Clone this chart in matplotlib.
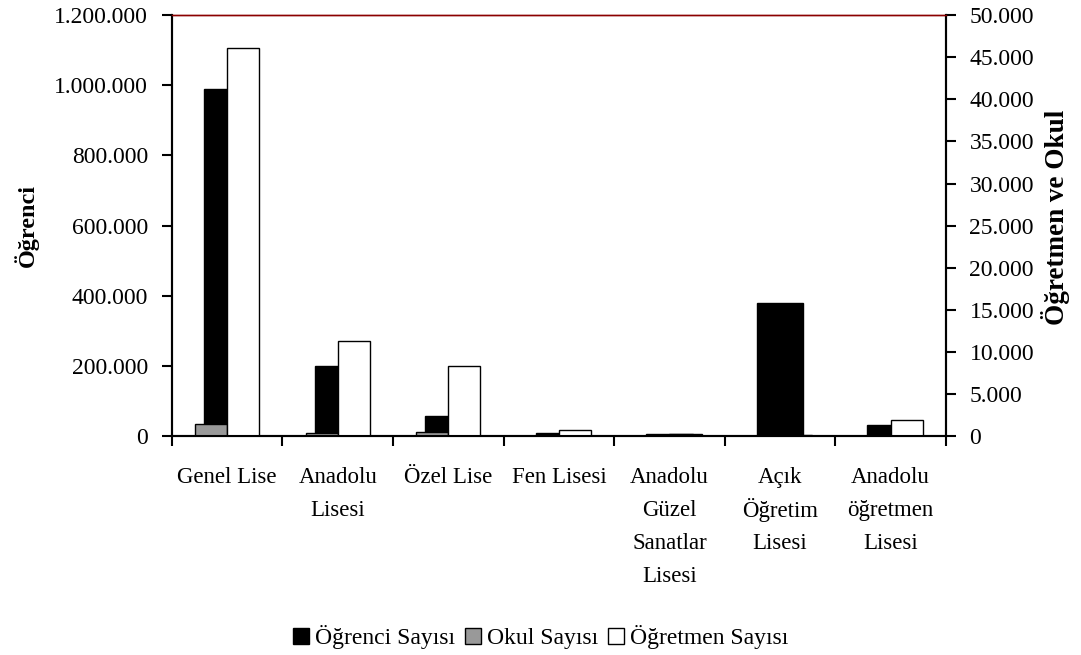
import numpy as np
import matplotlib
matplotlib.use('Agg')
import matplotlib.pyplot as plt
from matplotlib.ticker import FuncFormatter, FixedLocator
from matplotlib.patches import Patch

plt.rcParams['font.family'] = ['Liberation Serif', 'DejaVu Serif']

categories = ['Genel Lise', 'Anadolu\nLisesi', 'Özel Lise', 'Fen Lisesi',
              'Anadolu\nGüzel\nSanatlar\nLisesi', 'Açık\nÖğretim\nLisesi',
              'Anadolu\nöğretmen\nLisesi']
ogrenci = [989000, 200000, 57000, 9400, 5000, 381000, 31300]
okul = [1450, 350, 500, 60, 50, 10, 80]
ogretmen = [46100, 11300, 8300, 710, 320, 100, 1980]


def dotted(v, pos):
    return f'{int(v):,}'.replace(',', '.')


fig = plt.figure(figsize=(10.81, 6.55), dpi=100)
ax = fig.add_axes([0.159, 0.334, 0.716, 0.643])
ax2 = ax.twinx()

x = np.arange(len(categories))
ax.bar(x, ogrenci, width=0.42, color='black', edgecolor='black', linewidth=1)
ax2.bar(x - 0.145, okul, width=0.29, color='#999999', edgecolor='black', linewidth=1)
ax2.bar(x + 0.145, ogretmen, width=0.29, color='white', edgecolor='black', linewidth=1)

ax.set_xlim(-0.5, len(categories) - 0.5)
ax.set_ylim(0, 1200000)
ax2.set_ylim(0, 50000)
ax.set_yticks(np.arange(0, 1200001, 200000))
ax2.set_yticks(np.arange(0, 50001, 5000))
ax.yaxis.set_major_formatter(FuncFormatter(dotted))
ax2.yaxis.set_major_formatter(FuncFormatter(dotted))

# category labels, one line at a time for even spacing
ax.set_xticks(x)
ax.set_xticklabels([])
for i, lab in enumerate(categories):
    for k, line in enumerate(lab.split('\n')):
        ax.annotate(line, xy=(i, 0), xycoords=('data', 'axes fraction'),
                    xytext=(0, -(41 + 33 * k)), textcoords='offset pixels',
                    ha='center', va='center', fontsize=16.5)
ax.xaxis.set_minor_locator(FixedLocator(np.arange(-0.5, len(categories), 1.0)))
ax.tick_params(axis='x', which='major', length=0)
ax.tick_params(axis='x', which='minor', length=7, width=1.5, direction='out')
ax.tick_params(axis='y', labelsize=17, length=7, width=1.5, direction='out', pad=10)
ax2.tick_params(axis='y', labelsize=17, length=7, width=1.5, direction='out', pad=10)

for a in (ax, ax2):
    a.spines['top'].set_color('#8b0000')
    a.spines['top'].set_linewidth(1)
    for s in ('left', 'right', 'bottom'):
        a.spines[s].set_linewidth(1.5)

ax.set_ylabel('Öğrenci', fontsize=17.5, fontweight='bold')
ax.yaxis.set_label_coords(-0.172, 0.5)
ax2.set_ylabel('Öğretmen ve Okul', fontsize=19.5, fontweight='bold')
ax2.yaxis.set_label_coords(1.123, 0.52)

handles = [Patch(facecolor='black', edgecolor='black'),
           Patch(facecolor='#999999', edgecolor='black'),
           Patch(facecolor='white', edgecolor='black')]
fig.legend(handles, ['Öğrenci Sayısı', 'Okul Sayısı', 'Öğretmen Sayısı'],
           loc='center', bbox_to_anchor=(0.5, 0.027), ncol=3, frameon=False,
           fontsize=17, handlelength=0.7, handleheight=0.7,
           handletextpad=0.25, columnspacing=0.4)

fig.savefig('out.png', dpi=100)
